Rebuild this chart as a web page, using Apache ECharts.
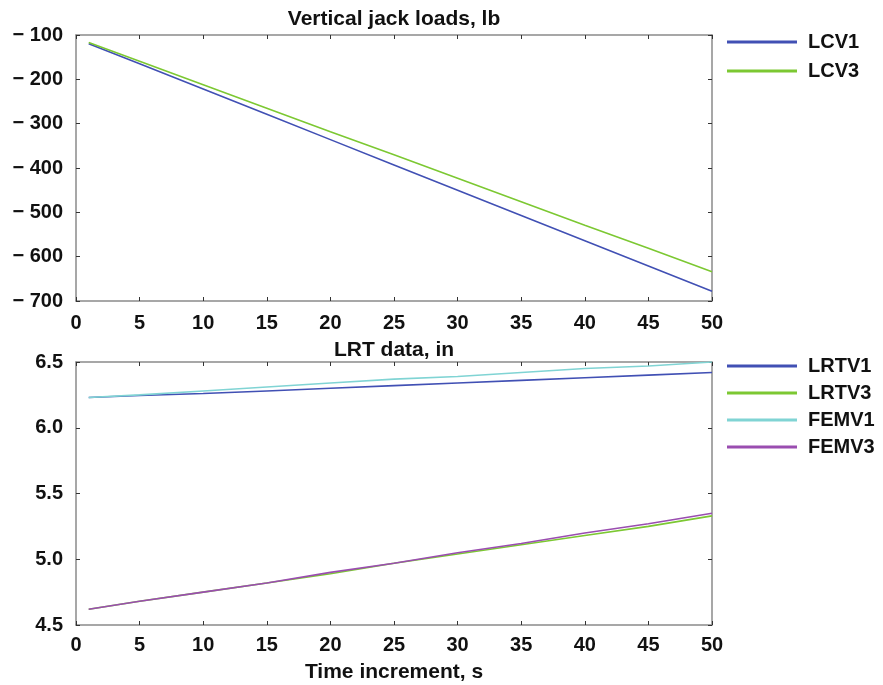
<!DOCTYPE html>
<html><head><meta charset="utf-8">
<script src="https://cdn.jsdelivr.net/npm/echarts@6/dist/echarts.min.js"></script>
<style>html,body{margin:0;padding:0;background:#fff}#c{width:883px;height:685px}</style>
</head><body><div id="c"></div>
<script>
// Data
const timeSteps = [1, 5, 10, 15, 20, 25, 30, 35, 40, 45, 50];
const LCV1 = [-120, -165, -222, -279, -336, -393, -450, -507, -564, -621, -678];
const LCV3 = [-117, -159, -212, -265, -318, -370, -423, -476, -529, -581, -634];
const LRTV1 = [6.23, 6.245, 6.26, 6.28, 6.30, 6.32, 6.34, 6.36, 6.38, 6.40, 6.42];
const LRTV3 = [4.62, 4.68, 4.75, 4.82, 4.89, 4.97, 5.04, 5.11, 5.18, 5.25, 5.33];
const FEMV1 = [6.23, 6.25, 6.28, 6.31, 6.34, 6.37, 6.39, 6.42, 6.45, 6.47, 6.50];
const FEMV3 = [4.62, 4.68, 4.75, 4.82, 4.90, 4.97, 5.05, 5.12, 5.20, 5.27, 5.35];
const xTicks = [0, 5, 10, 15, 20, 25, 30, 35, 40, 45, 50];
const topYTicks = [-100, -200, -300, -400, -500, -600, -700];
const botYTicks = [4.5, 5.0, 5.5, 6.0, 6.5];

const pair = (ys) => timeSteps.map((t, i) => [t, ys[i]]);
const C = { blue: '#4150b4', green: '#7cc832', cyan: '#80d4d4', purple: '#9a4db0' };
const axisColor = '#8a8a8a';
const fontFamily = '"Liberation Sans", Arial, sans-serif';
const labelStyle = { color: '#111', fontSize: 20, fontWeight: 'bold', fontFamily };

function xAx(gridIndex, bottomLabels, name, labelMargin) {
  return [{
    type: 'value', gridIndex, min: 0, max: 50, interval: 5, position: 'bottom',
    axisLine: { show: true, onZero: false, lineStyle: { color: axisColor, width: 1.5 } },
    axisTick: { show: true, inside: true, length: 4, lineStyle: { color: '#333', width: 1 } },
    axisLabel: Object.assign({ show: bottomLabels, margin: labelMargin }, labelStyle),
    splitLine: { show: false },
    name: name || '', nameLocation: 'middle', nameGap: 37,
    nameTextStyle: { color: '#111', fontSize: 21, fontWeight: 'bold', fontFamily }
  }, {
    type: 'value', gridIndex, min: 0, max: 50, interval: 5, position: 'top',
    axisLine: { show: true, onZero: false, lineStyle: { color: axisColor, width: 1.5 } },
    axisTick: { show: true, inside: true, length: 4, lineStyle: { color: '#333', width: 1 } },
    axisLabel: { show: false }, splitLine: { show: false }
  }];
}
function yAx(gridIndex, min, max, interval, fmt) {
  return [{
    type: 'value', gridIndex, min, max, interval, position: 'left',
    axisLine: { show: true, onZero: false, lineStyle: { color: axisColor, width: 1.5 } },
    axisTick: { show: true, inside: true, length: 4, lineStyle: { color: '#333', width: 1 } },
    axisLabel: Object.assign({ margin: 13, formatter: fmt }, labelStyle),
    splitLine: { show: false }
  }, {
    type: 'value', gridIndex, min, max, interval, position: 'right',
    axisLine: { show: true, onZero: false, lineStyle: { color: axisColor, width: 1.5 } },
    axisTick: { show: true, inside: true, length: 4, lineStyle: { color: '#333', width: 1 } },
    axisLabel: { show: false }, splitLine: { show: false }
  }];
}
function line(name, data, color, xi, yi) {
  return { name, type: 'line', data: pair(data), xAxisIndex: xi, yAxisIndex: yi,
    showSymbol: false, symbol: 'none', lineStyle: { color, width: 1.6 }, itemStyle: { color } };
}
const legendText = { fontSize: 20, fontWeight: 'bold', color: '#111', fontFamily, padding: [0, 0, 0, 6] };

const chart = echarts.init(document.getElementById('c'), null, { renderer: 'canvas' });
chart.setOption({
  animation: false,
  backgroundColor: '#fff',
  title: [
    { text: 'Vertical jack loads, lb', left: 394, top: 9, textAlign: 'center', padding: 0,
      textStyle: { fontSize: 21, fontWeight: 'bold', color: '#111', fontFamily } },
    { text: 'LRT data, in', left: 394, top: 340, textAlign: 'center', padding: 0,
      textStyle: { fontSize: 21, fontWeight: 'bold', color: '#111', fontFamily } }
  ],
  grid: [
    { left: 76, right: 171, top: 35, height: 266, outerBoundsMode: 'none', containLabel: false },
    { left: 76, right: 171, top: 362, height: 263, outerBoundsMode: 'none', containLabel: false }
  ],
  legend: [
    { data: ['LCV1', 'LCV3'], orient: 'vertical', left: 727, top: 32, padding: 0, itemWidth: 70, itemHeight: 3,
      itemGap: 9, icon: 'rect', textStyle: legendText },
    { data: ['LRTV1', 'LRTV3', 'FEMV1', 'FEMV3'], orient: 'vertical', left: 727, top: 356, padding: 0, itemWidth: 70, itemHeight: 3,
      itemGap: 7, icon: 'rect', textStyle: legendText }
  ],
  xAxis: [...xAx(0, true, '', 12), ...xAx(1, true, 'Time increment, s', 10)],
  yAxis: [
    ...yAx(0, -700, -100, 100, v => String(v).replace('-', '\u2212 ')),
    ...yAx(1, 4.5, 6.5, 0.5, v => v.toFixed(1))
  ],
  series: [
    line('LCV1', LCV1, C.blue, 0, 0),
    line('LCV3', LCV3, C.green, 0, 0),
    line('LRTV1', LRTV1, C.blue, 2, 2),
    line('LRTV3', LRTV3, C.green, 2, 2),
    line('FEMV1', FEMV1, C.cyan, 2, 2),
    line('FEMV3', FEMV3, C.purple, 2, 2)
  ]
});
</script></body></html>
